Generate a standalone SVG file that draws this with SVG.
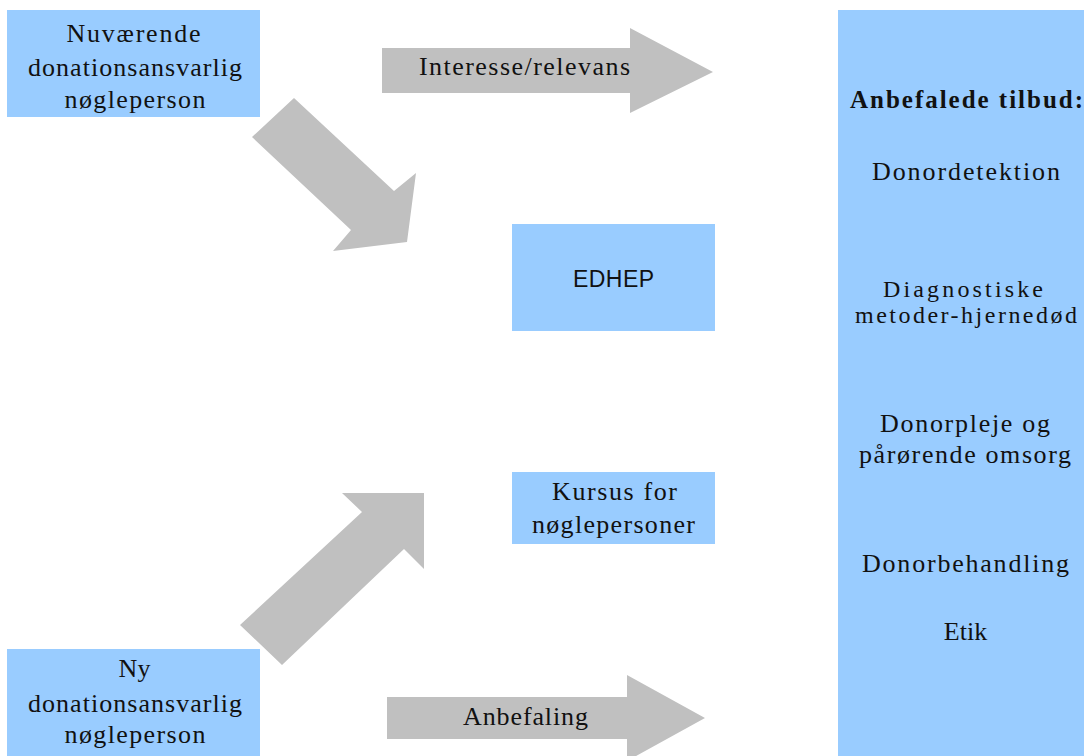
<svg xmlns="http://www.w3.org/2000/svg" width="1084" height="756" viewBox="0 0 1084 756">
<style>
.box{fill:#99CCFF}
.arr{fill:#C0C0C0}
.t{font-family:"Liberation Serif","Times New Roman",serif;font-size:26px;fill:#111;text-anchor:middle}
.b{font-weight:bold;font-size:25px}
.m{font-size:24px}
.s{font-family:"Liberation Sans",Arial,sans-serif;font-size:23px;fill:#111;text-anchor:middle}
</style>
<rect width="1084" height="756" fill="#FFFFFF"/>
<g id="connectors">
<polygon class="arr" points="382,48 630,48 630,28 713,72 630,113 630,93 382,93"/>
<polygon class="arr" points="294,98 394,191 416,173 407,242 333,251 351,230 252,137"/>
<polygon class="arr" points="240,625 362,512 342,493 424,493 424,569 404,549 282,665"/>
<polygon class="arr" points="387,697 627,697 627,675 705,718 627,761 627,739 387,739"/>
<text class="t" x="524.5" y="75" textLength="211" lengthAdjust="spacing">Interesse/relevans</text>
<text class="t" x="525.5" y="725" textLength="125" lengthAdjust="spacing">Anbefaling</text>
</g>
<g id="node-nuvaerende">
<rect class="box" x="7" y="10" width="253" height="107"/>
<text class="t" x="133.5" y="42" textLength="134" lengthAdjust="spacing">Nuværende</text>
<text class="t" x="135" y="76" textLength="214" lengthAdjust="spacing">donationsansvarlig</text>
<text class="t" x="135" y="108" textLength="141" lengthAdjust="spacing">nøgleperson</text>
</g>
<g id="node-ny">
<rect class="box" x="7" y="649" width="253" height="110"/>
<text class="t" x="134.5" y="677">Ny</text>
<text class="t" x="135" y="712" textLength="214" lengthAdjust="spacing">donationsansvarlig</text>
<text class="t" x="135" y="743" textLength="141" lengthAdjust="spacing">nøgleperson</text>
</g>
<g id="node-edhep">
<rect class="box" x="512" y="224" width="203" height="107"/>
<text class="s" x="613.5" y="287" textLength="81" lengthAdjust="spacing">EDHEP</text>
</g>
<g id="node-kursus">
<rect class="box" x="512" y="472" width="203" height="72"/>
<text class="t" x="614.5" y="500" textLength="125" lengthAdjust="spacing">Kursus for</text>
<text class="t" x="613.5" y="533" textLength="163" lengthAdjust="spacing">nøglepersoner</text>
</g>
<g id="node-tilbud">
<rect class="box" x="838" y="10" width="260" height="750"/>
<text class="t b" x="966.5" y="108" textLength="233" lengthAdjust="spacing">Anbefalede tilbud:</text>
<text class="t" x="966" y="180" textLength="188" lengthAdjust="spacing">Donordetektion</text>
<text class="t m" x="963" y="297" textLength="160" lengthAdjust="spacing">Diagnostiske</text>
<text class="t m" x="966" y="323" textLength="222" lengthAdjust="spacing">metoder-hjernedød</text>
<text class="t" x="965" y="432" textLength="170" lengthAdjust="spacing">Donorpleje og</text>
<text class="t" x="965" y="463" textLength="212" lengthAdjust="spacing">pårørende omsorg</text>
<text class="t" x="965.5" y="572" textLength="207" lengthAdjust="spacing">Donorbehandling</text>
<text class="t" x="965.5" y="640">Etik</text>
</g>
</svg>
